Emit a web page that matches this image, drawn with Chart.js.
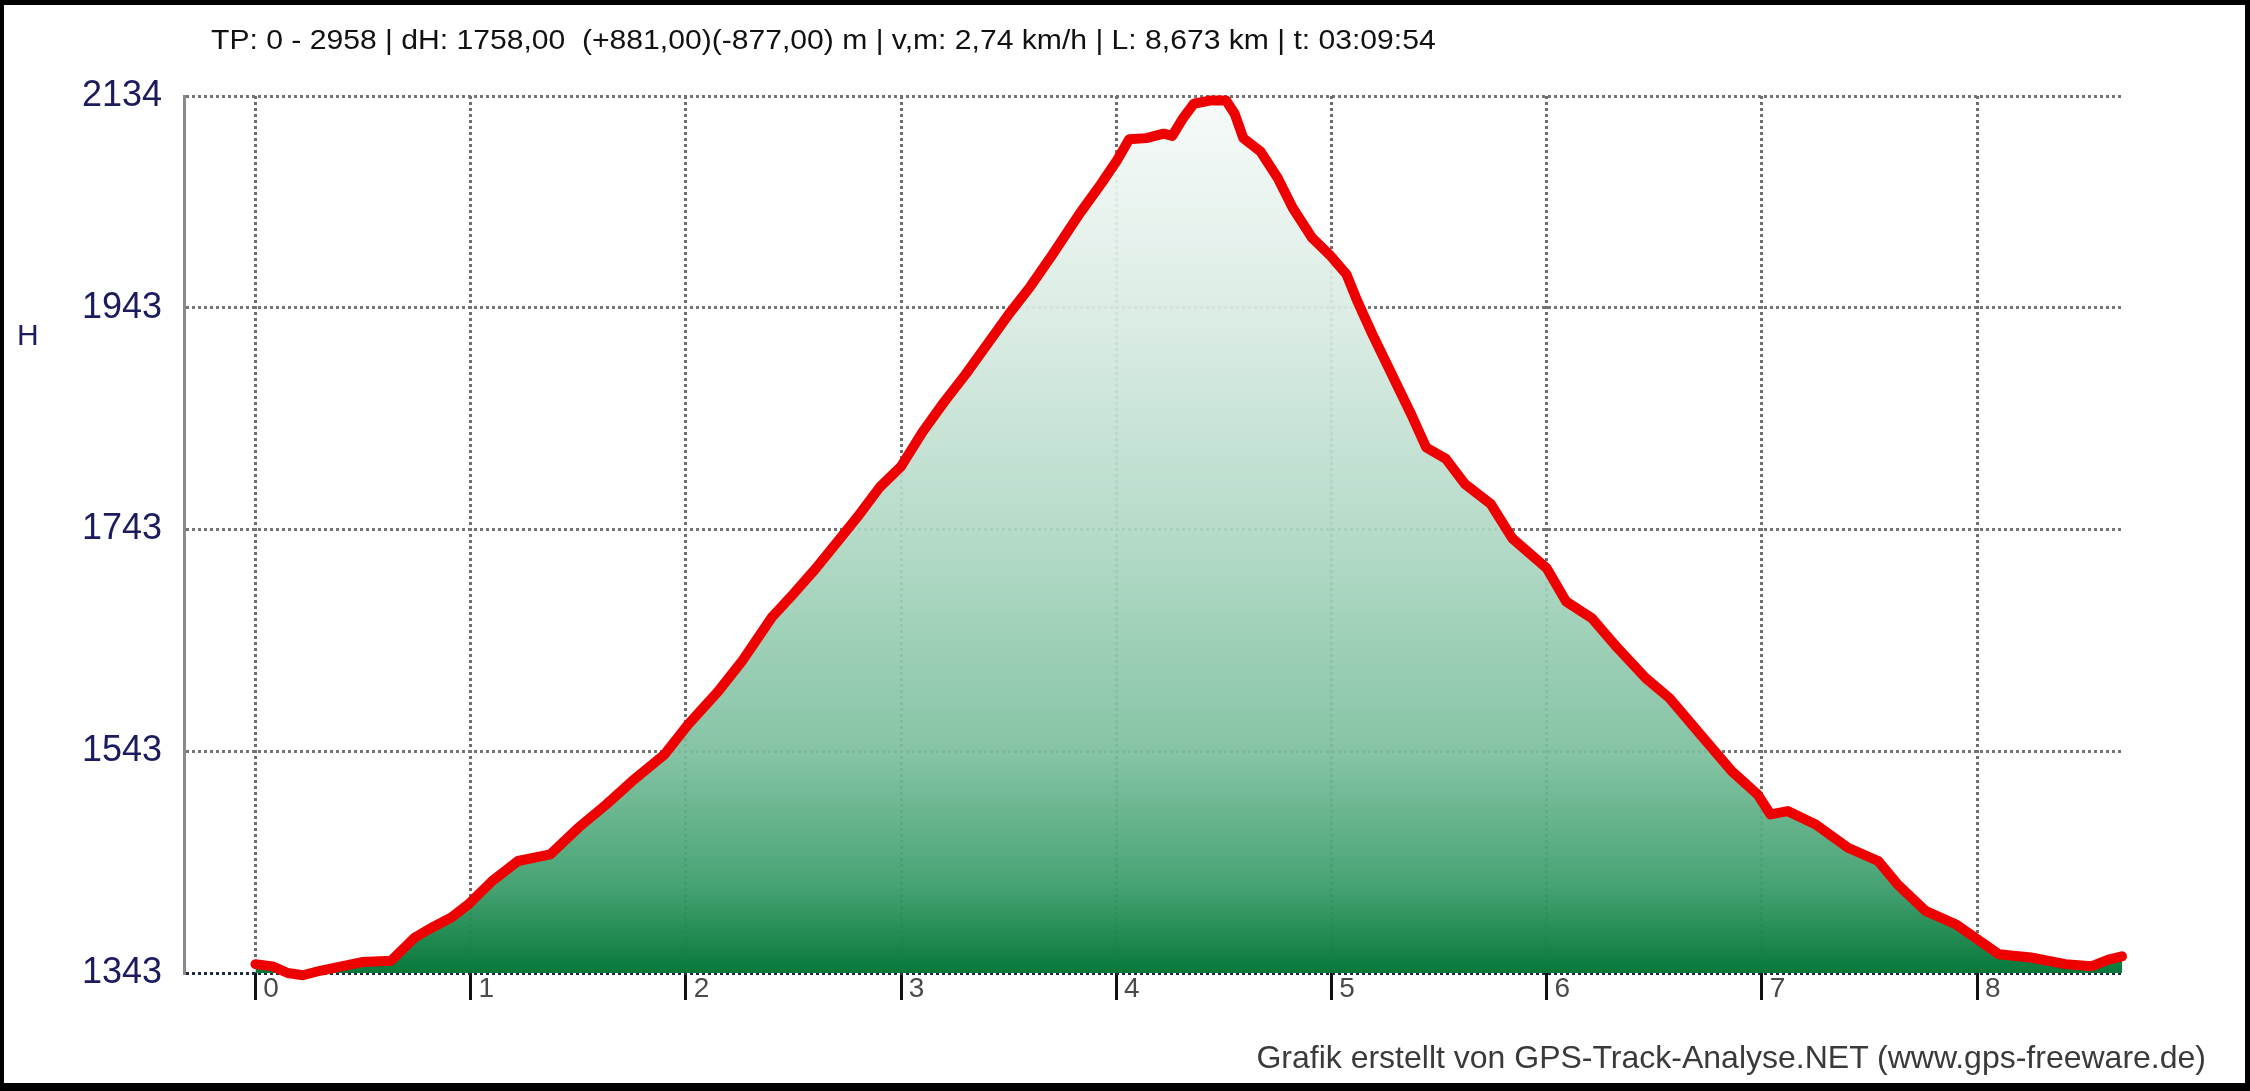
<!DOCTYPE html>
<html>
<head>
    <meta charset="utf-8">
    <title>GPS-Track-Analyse Höhenprofil</title>
    <style>
        html, body {
            margin: 0;
            padding: 0;
            background: #fff;
        }
        .frame {
            position: relative;
            width: 2250px;
            height: 1091px;
            box-sizing: border-box;
            border-style: solid;
            border-color: #000;
            border-width: 5px 5px 8px 4px;
            overflow: hidden;
            font-family: "Liberation Sans", Arial, sans-serif;
        }
        .chart-box {
            position: absolute;
            left: -4px;
            top: -5px;
            width: 2250px;
            height: 1091px;
        }
        .title {
            position: absolute;
            left: 207px;
            top: 20px;
            font-size: 27px;
            color: #111;
            white-space: pre;
            transform: scaleX(1.115);
            transform-origin: left top;
        }
        .ylabel {
            position: absolute;
            left: 13px;
            top: 313px;
            font-size: 30px;
            color: #1b1b5e;
        }
        .credit {
            position: absolute;
            right: 39px;
            top: 1034px;
            font-size: 32px;
            color: #3a3a3a;
            white-space: pre;
        }
    </style>
    <script src="https://cdn.jsdelivr.net/npm/chart.js@4.4.1/dist/chart.umd.min.js"></script>
</head>
<body>
    <div class="frame">
        <div class="chart-box"><canvas id="profile"></canvas></div>
        <div class="title">TP: 0 - 2958 | dH: 1758,00  (+881,00)(-877,00) m | v,m: 2,74 km/h | L: 8,673 km | t: 03:09:54</div>
        <div class="ylabel">H</div>
        <div class="credit">Grafik erstellt von GPS-Track-Analyse.NET (www.gps-freeware.de)</div>
    </div>
    <script>
        // distance along the track (km) and elevation (m)
        const distKm = [
            0.00, 0.08, 0.15, 0.22, 0.30, 0.40, 0.50, 0.63, 0.74, 0.83,
            0.91, 0.99, 1.10, 1.22, 1.37, 1.50, 1.63, 1.75, 1.90, 2.01,
            2.15, 2.26, 2.40, 2.50, 2.60, 2.70, 2.80, 2.90, 3.00, 3.10,
            3.20, 3.30, 3.40, 3.50, 3.60, 3.70, 3.83, 3.93, 4.00, 4.06,
            4.14, 4.22, 4.26, 4.31, 4.36, 4.44, 4.51, 4.55, 4.59, 4.67,
            4.75, 4.82, 4.91, 4.99, 5.07, 5.12, 5.19, 5.25, 5.37, 5.44,
            5.53, 5.62, 5.74, 5.84, 6.00, 6.09, 6.21, 6.33, 6.46, 6.57,
            6.71, 6.86, 6.98, 7.04, 7.12, 7.25, 7.40, 7.54, 7.63, 7.76,
            7.90, 7.99, 8.10, 8.25, 8.41, 8.53, 8.61, 8.673
        ];
        const elevM = [
            1351, 1349, 1343, 1341, 1345, 1349, 1353, 1354, 1375, 1385,
            1393, 1405, 1426, 1444, 1450, 1474, 1495, 1516, 1540, 1567,
            1597, 1624, 1664, 1685, 1707, 1731, 1755, 1781, 1800, 1831,
            1858, 1883, 1910, 1937, 1962, 1990, 2028, 2055, 2075, 2095,
            2096, 2100, 2098, 2114, 2127, 2130, 2130, 2118, 2096, 2084,
            2060, 2033, 2006, 1991, 1973, 1949, 1919, 1895, 1847, 1817,
            1807, 1784, 1766, 1735, 1708, 1678, 1663, 1636, 1609, 1591,
            1559, 1525, 1504, 1486, 1489, 1477, 1456, 1444, 1423, 1399,
            1387, 1375, 1360, 1357, 1351, 1349, 1355, 1358
        ];
        const xTicks = [0, 1, 2, 3, 4, 5, 6, 7, 8];
        const yTicks = [1343, 1543, 1743, 1943, 2134];

        const points = distKm.map((d, i) => ({ x: d, y: elevM[i] }));

        function greenFill(context) {
            const area = context.chart.chartArea;
            if (!area) return 'rgba(10,125,60,0.9)';
            const g = context.chart.ctx.createLinearGradient(0, area.top, 0, area.bottom);
            g.addColorStop(0, 'rgba(246,250,248,0.92)');
            g.addColorStop(0.25, 'rgba(217,235,227,0.92)');
            g.addColorStop(0.5, 'rgba(175,216,196,0.92)');
            g.addColorStop(0.75, 'rgba(123,191,157,0.92)');
            g.addColorStop(0.9, 'rgba(61,158,108,0.95)');
            g.addColorStop(1, 'rgba(7,120,58,1)');
            return g;
        }

        new Chart(document.getElementById('profile'), {
            type: 'line',
            data: {
                datasets: [{
                    data: points,
                    borderColor: '#ee0000',
                    borderWidth: 10,
                    borderJoinStyle: 'round',
                    borderCapStyle: 'round',
                    backgroundColor: greenFill,
                    fill: 'start',
                    tension: 0,
                    pointRadius: 0,
                    clip: false
                }]
            },
            options: {
                responsive: true,
                maintainAspectRatio: false,
                animation: false,
                layout: {
                    padding: { top: 96, right: 128, bottom: 0, left: 0 }
                },
                plugins: {
                    legend: { display: false },
                    tooltip: { enabled: false }
                },
                scales: {
                    x: {
                        type: 'linear',
                        min: -0.332,
                        max: 8.673,
                        afterBuildTicks: (scale) => {
                            scale.ticks = xTicks.map(v => ({ value: v }));
                        },
                        afterFit: (scale) => { scale.height = 118; },
                        grid: {
                            color: '#6e6e6e',
                            lineWidth: 3,
                            drawTicks: true,
                            tickLength: 27,
                            tickColor: '#111',
                            tickWidth: 3,
                            tickBorderDash: []
                        },
                        border: {
                            display: false,
                            dash: [3, 3]
                        },
                        ticks: {
                            align: 'start',
                            padding: -28,
                            maxRotation: 0,
                            autoSkip: false,
                            color: '#4a4a4a',
                            font: { family: 'Liberation Sans, Arial, sans-serif', size: 28 },
                            callback: (v) => ' ' + v
                        }
                    },
                    y: {
                        min: 1343,
                        max: 2134,
                        z: 1,
                        afterBuildTicks: (scale) => {
                            scale.ticks = yTicks.map(v => ({ value: v }));
                        },
                        afterFit: (scale) => { scale.width = 184; },
                        grid: {
                            color: (c) => (c.tick && c.tick.value === 1343) ? '#1c2a44' : '#6f7674',
                            lineWidth: 3,
                            drawTicks: false
                        },
                        border: {
                            display: true,
                            color: '#8a8a8a',
                            width: 3,
                            dash: [3, 3]
                        },
                        ticks: {
                            padding: 22,
                            color: '#1b1b5e',
                            font: { family: 'Liberation Sans, Arial, sans-serif', size: 36 },
                            callback: (v) => String(v)
                        }
                    }
                }
            }
        });
    </script>
</body>
</html>
